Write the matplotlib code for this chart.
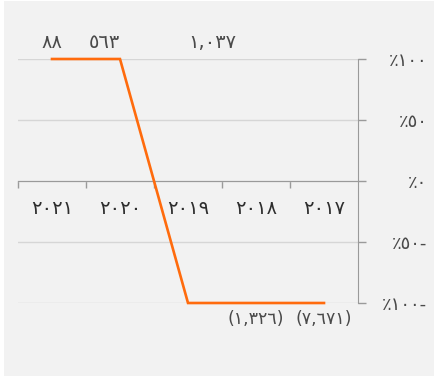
import matplotlib.pyplot as plt
from matplotlib.patches import Rectangle
from matplotlib.ticker import FixedLocator

plt.rcParams['font.family'] = ['DejaVu Sans']

# Years, right-to-left layout (latest year first)
years = ['٢٠٢١', '٢٠٢٠', '٢٠١٩', '٢٠١٨', '٢٠١٧']
# Percent change, capped at +/-100
pct_change = [100, 100, -100, -100, -100]
# Value labels as shown above/below the line
value_labels = ['٨٨', '٥٦٣', '١,٠٣٧', '(١,٣٢٦)', '(٧,٦٧١)']
value_signs = [1, 1, 1, -1, -1]
label_align = ['center', 'right', 'left', 'center', 'center']

y_ticks = [100, 50, 0, -50, -100]
y_tick_labels = ['٪١٠٠', '٪٥٠', '٪٠', '٪٥٠-', '٪١٠٠-']

W, H = 435, 379
fig = plt.figure(figsize=(W / 100, H / 100), dpi=100, facecolor='white')
bg = Rectangle((4 / W, 3 / H), 1 - 4 / W, 1 - 4 / H,
               transform=fig.transFigure, facecolor='#f2f2f2',
               edgecolor='none', zorder=-10)
fig.add_artist(bg)

ax = fig.add_axes([18 / W, 1 - 303 / H, 340 / W, 244 / H])
ax.set_facecolor('none')

x = list(range(len(years)))
ax.plot(x, pct_change, color='#ff6b0d', lw=1.9, solid_joinstyle='miter',
        clip_on=False, zorder=3)

ax.set_xlim(-0.5, len(years) - 0.5)
ax.set_ylim(-100, 100)

# horizontal grid
ax.set_yticks(y_ticks)
ax.yaxis.tick_right()
ax.set_yticklabels(y_tick_labels, ha='right', fontsize=13, color='#4a4a4a')
ax.tick_params(axis='y', direction='out', length=6, width=1,
               color='#9a9a9a', pad=44)
ax.grid(axis='y', color='#d6d6d6', lw=1)
ax.set_axisbelow(True)

# x axis sits on the zero line
for s in ['top', 'left']:
    ax.spines[s].set_visible(False)
ax.spines['right'].set_color('#9a9a9a')
ax.spines['bottom'].set_position(('data', 0))
ax.spines['bottom'].set_color('#9a9a9a')

ax.set_xticks(x)
ax.set_xticklabels(years, fontsize=14, color='#2e2e2e')
ax.xaxis.set_minor_locator(FixedLocator([i - 0.5 for i in x]))
ax.tick_params(axis='x', which='major', length=0, pad=13)
ax.tick_params(axis='x', which='minor', direction='out', length=5,
               width=1, color='#9a9a9a')

# value labels: positives above the top line, negatives below the bottom one
for i, (lbl, sgn, ha) in enumerate(zip(value_labels, value_signs, label_align)):
    y = 100 if sgn > 0 else -100
    ax.annotate(lbl, (i, y), xytext=(0, 5 * sgn), textcoords='offset points',
                ha=ha, va='bottom' if sgn > 0 else 'top',
                fontsize=14 if sgn > 0 else 12.5, color='#4a4a4a')

fig.savefig('out.png', dpi=100, facecolor=fig.get_facecolor())
